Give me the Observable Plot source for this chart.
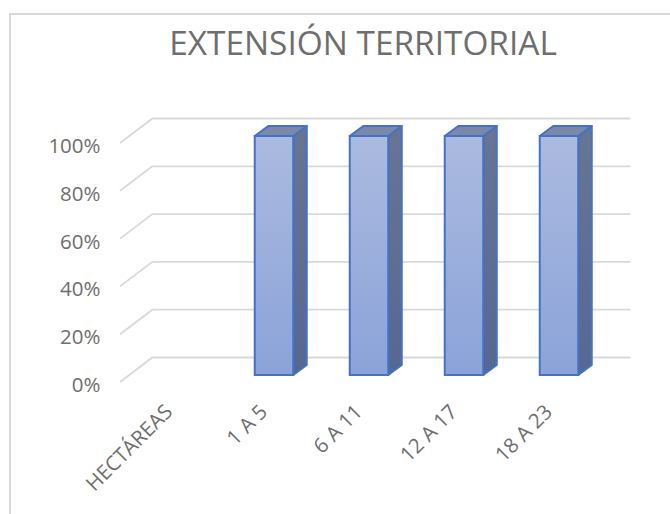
<!DOCTYPE html>
<html><head><meta charset="utf-8">
<script src="https://cdn.jsdelivr.net/npm/d3@7"></script>
<script src="https://cdn.jsdelivr.net/npm/@observablehq/plot@0.6"></script>
<style>
html,body{margin:0;padding:0;background:#fff}
#chart{position:absolute;left:9px;top:13px;width:670px;height:520px;border:2px solid #d9d9d9;box-sizing:border-box}
#wrap{position:relative;width:670px;height:514px;overflow:hidden}
#title{position:absolute;left:0;top:20px;width:670px;padding-left:56px;box-sizing:border-box;text-align:center;font:33.4px "Open Sans",sans-serif;color:#6e6e6e;line-height:44px;white-space:nowrap}
#plot{position:absolute;left:0;top:0}
svg{display:block}
</style></head><body>
<div id="wrap"><div id="chart"></div><div id="title">EXTENSIÓN TERRITORIAL</div><div id="plot"></div></div>
<script>
const categories = ["HECTÁREAS","1 A 5","6 A 11","12 A 17","18 A 23"];
const values = [null,100,100,100,100];
const yTicks = [0,20,40,60,80,100];
const rows = categories.map((c,i)=>({c,v:values[i]}));
const bars = rows.filter(d=>d.v!=null);
const back = {x:33,y:-25}, bar = {x:10.5,y:-7}, depth = {x:13.5,y:-10}, inset = 28.25;
const font = '"Open Sans",sans-serif';

const poly = (svg, pts, attrs) => {
  const p = document.createElementNS("http://www.w3.org/2000/svg","polygon");
  p.setAttribute("points", pts.map(q=>q.join(",")).join(" "));
  for (const k in attrs) p.setAttribute(k, attrs[k]);
  svg.appendChild(p);
};
const g = () => document.createElementNS("http://www.w3.org/2000/svg","g");

const gridSides = (index,{y},vals,{marginLeft}) => {
  const s = g();
  for (const t of yTicks) {
    const l = document.createElementNS("http://www.w3.org/2000/svg","line");
    l.setAttribute("x1",marginLeft); l.setAttribute("y1",y(t));
    l.setAttribute("x2",marginLeft+back.x); l.setAttribute("y2",y(t)+back.y);
    l.setAttribute("stroke","#d9d9d9"); l.setAttribute("stroke-width",1.8);
    s.appendChild(l);
  }
  return s;
};
const barFaces = (index,{x,y}) => {
  const s = g();
  const bw = x.bandwidth();
  for (const d of bars) {
    const x0 = x(d.c)+inset+bar.x, x1 = x(d.c)+bw-inset+bar.x;
    const yt = y(d.v)+bar.y, yb = y(0)+bar.y;
    const st = {stroke:"#4472c4","stroke-width":2,"stroke-linejoin":"round"};
    poly(s,[[x1,yt],[x1+depth.x,yt+depth.y],[x1+depth.x,yb+depth.y],[x1,yb]],{fill:"url(#side)",...st});
    poly(s,[[x0,yt],[x0+depth.x,yt+depth.y],[x1+depth.x,yt+depth.y],[x1,yt]],{fill:"#7c88a8",...st});
  }
  return s;
};
const defs = () => {
  const s = g();
  s.innerHTML = `<defs>
  <linearGradient id="front" x1="0" y1="0" x2="0" y2="1"><stop offset="0" stop-color="#abbae0"/><stop offset="1" stop-color="#8ba3d9"/></linearGradient>
  <linearGradient id="side" x1="0" y1="0" x2="0" y2="1"><stop offset="0" stop-color="#687593"/><stop offset="1" stop-color="#566792"/></linearGradient>
  </defs>`;
  return s;
};

const chart = Plot.plot({
  width:670, height:514,
  marginLeft:120, marginRight:72.5, marginTop:143, marginBottom:132,
  style:{background:"transparent",fontFamily:font,overflow:"visible"},
  x:{domain:categories,padding:0,label:null},
  y:{domain:[0,100],label:null},
  marks:[
    defs,
    Plot.ruleY(yTicks,{stroke:"#d9d9d9",strokeWidth:1.8,strokeOpacity:1,dx:back.x,dy:back.y}),
    gridSides,
    barFaces,
    Plot.barY(bars,{x:"c",y:"v",fill:"url(#front)",stroke:"#4472c4",strokeWidth:2,insetLeft:inset,insetRight:inset,dx:bar.x,dy:bar.y}),
    Plot.axisY({ticks:yTicks,tickFormat:d=>d+"%",tickSize:0,tickPadding:20,fontSize:20.5,color:"#6e6e6e",label:null,dy:3}),
    Plot.axisX({tickSize:0,tickRotate:-45,tickPadding:14,fontSize:20.5,color:"#6e6e6e",label:null,dy:12})
  ]
});
document.getElementById("plot").appendChild(chart);
</script></body></html>
